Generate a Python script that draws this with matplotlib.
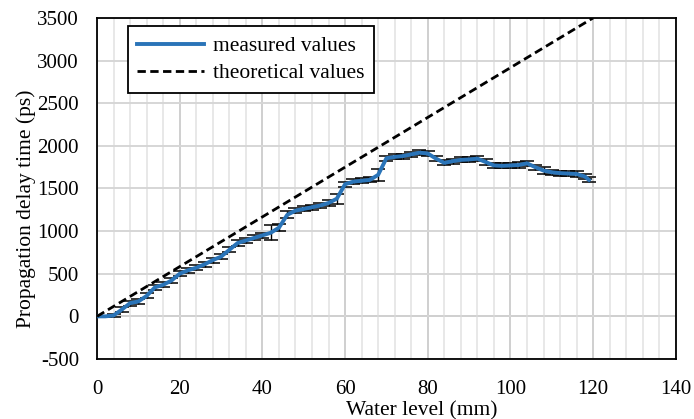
import matplotlib
matplotlib.use("Agg")
import matplotlib.pyplot as plt
import numpy as np
from matplotlib.ticker import MultipleLocator

plt.rcParams['font.family'] = ['Liberation Serif', 'DejaVu Serif']
plt.rcParams['axes.unicode_minus'] = False

water_level = [0, 2, 4, 6, 8, 10, 12, 14, 16, 18, 20, 22, 24, 26, 28, 30, 32, 34, 36, 38,
               40, 42, 44, 46, 48, 50, 52, 54, 56, 58, 60, 62, 64, 66, 68, 70, 72, 74, 76, 78,
               80, 82, 84, 86, 88, 90, 92, 94, 96, 98, 100, 102, 104, 106, 108, 110, 112, 114,
               116, 118, 119]
measured = [0, 0, 10, 80, 155, 175, 240, 340, 370, 420, 500, 540, 570, 610, 660, 700, 780, 860, 890, 920,
            950, 980, 1040, 1190, 1240, 1260, 1280, 1300, 1330, 1380, 1550, 1580, 1590, 1600, 1660, 1855, 1870, 1880, 1900, 1920,
            1910, 1850, 1800, 1820, 1835, 1840, 1850, 1810, 1770, 1765, 1770, 1775, 1795, 1750, 1710, 1690, 1680, 1675,
            1670, 1640, 1600]
errors = [10, 10, 20, 30, 30, 30, 30, 30, 30, 30, 30, 30, 30, 30, 30, 30, 30, 30, 30, 30,
          30, 90, 40, 40, 30, 30, 30, 30, 30, 60, 30, 30, 30, 30, 70, 30, 30, 30, 30, 30,
          30, 30, 30, 30, 30, 30, 30, 30, 30, 30, 30, 30, 30, 30, 40, 30, 30, 30,
          30, 30, 30]
theory_x = [0, 120]
theory_y = [0, 3500]

fig = plt.figure(figsize=(6.94, 4.19), dpi=100)
ax = fig.add_axes([0.1398, 0.1432, 0.834, 0.814])

ax.set_xlim(0, 140)
ax.set_ylim(-500, 3500)
ax.xaxis.set_major_locator(MultipleLocator(20))
ax.xaxis.set_minor_locator(MultipleLocator(4))
ax.yaxis.set_major_locator(MultipleLocator(500))

ax.grid(True, which='major', axis='x', color='#cfcfcf', linewidth=1.4, zorder=0)
ax.grid(True, which='minor', axis='x', color='#e8e8e8', linewidth=1.4, zorder=0)
ax.grid(True, which='major', axis='y', color='#d6d6d6', linewidth=1.4, zorder=0)
ax.tick_params(which='both', length=0, labelsize=15)
ax.tick_params(axis='y', pad=13)
ax.tick_params(axis='x', pad=15)

ax.axhline(0, color='black', linewidth=1.3, zorder=1)

ax.errorbar(water_level, measured, yerr=errors, fmt='none', ecolor='black',
            elinewidth=1.0, capsize=5, capthick=1.1, zorder=2)
ax.plot(water_level, measured, color='#2a74b8', linewidth=2.8, zorder=3,
        label='measured values', solid_joinstyle='round')
ax.plot(theory_x, theory_y, color='black', linewidth=2.0, linestyle=(0, (3, 1.6)),
        zorder=4, label='theoretical values')

for s in ax.spines.values():
    s.set_linewidth(1.3)
    s.set_color('black')

ax.set_xlabel('Water level (mm)', fontsize=15.5)
ax.set_ylabel('Propagation delay time (ps)', fontsize=15.5)
ax.xaxis.set_label_coords(0.5613, -0.124)
ax.yaxis.set_label_coords(-0.106, 0.44)

leg = ax.legend(loc='upper left', bbox_to_anchor=(0.053, 0.975), fontsize=15.5,
                frameon=True, fancybox=False, edgecolor='black', framealpha=1,
                handlelength=3.1, borderpad=0.45, labelspacing=0.32, handletextpad=0.4,
                borderaxespad=0)
leg.get_frame().set_linewidth(1.3)

fig.savefig('out.png', dpi=100)
